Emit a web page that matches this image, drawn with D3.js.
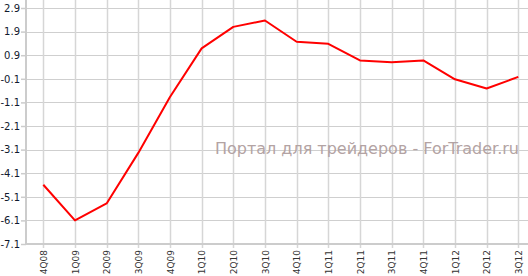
<!DOCTYPE html>
<html>
<head>
<meta charset="utf-8">
<script src="https://cdn.jsdelivr.net/npm/d3@7"></script>
<style>
html,body{margin:0;padding:0;background:#fff;}
svg{display:block;}
</style>
</head>
<body>
<svg id="chart" width="528" height="276"></svg>
<script>
const categories = ["4Q08","1Q09","2Q09","3Q09","4Q09","1Q10","2Q10","3Q10","4Q10","1Q11","2Q11","3Q11","4Q11","1Q12","2Q12","3Q12"];
const values = [-4.59,-6.1,-5.38,-3.24,-0.87,1.19,2.1,2.37,1.47,1.38,0.68,0.6,0.68,-0.12,-0.51,-0.02];
const yTicks = [2.9,1.9,0.9,-0.1,-1.1,-2.1,-3.1,-4.1,-5.1,-6.1,-7.1];
const watermark = "Портал для трейдеров - ForTrader.ru";

const svg = d3.select("#chart");
const W = 528, H = 276;
const left = 26, bottom = 244;

const x = d3.scalePoint().domain(categories).range([43.3, 518.3]);
const y = d3.scaleLinear().domain([-7.1, 2.9]).range([244, 8]);

// horizontal grid
svg.append("g").selectAll("line").data(yTicks).join("line")
  .attr("x1", left).attr("x2", W)
  .attr("y1", d => Math.round(y(d)) + 0.5).attr("y2", d => Math.round(y(d)) + 0.5)
  .attr("stroke", "#cfcfcf").attr("stroke-width", 1);

// vertical grid
svg.append("g").selectAll("line").data(categories).join("line")
  .attr("x1", d => Math.round(x(d)) + 0.5).attr("x2", d => Math.round(x(d)) + 0.5)
  .attr("y1", 0).attr("y2", bottom + 4)
  .attr("stroke", "#d6d6d6").attr("stroke-width", 1.5);

// y axis
const yAxis = d3.axisLeft(y).tickValues(yTicks).tickSize(5).tickPadding(1).tickFormat(d => d.toFixed(1));
const gy = svg.append("g").attr("transform", `translate(${left},0)`).call(yAxis);
gy.select(".domain").attr("stroke", "#cccccc").attr("stroke-width", 2).attr("d", `M0,0V${bottom}`);
gy.selectAll(".tick line").attr("stroke", "#cccccc").attr("stroke-width", 1.5);
gy.selectAll("text").attr("font-family", "DejaVu Sans, Verdana, sans-serif").attr("font-size", 10).attr("fill", "#111a2e");

// x axis
const xAxis = d3.axisBottom(x).tickSize(0).tickPadding(0);
const gx = svg.append("g").attr("transform", `translate(0,${bottom})`).call(xAxis);
gx.select(".domain").attr("stroke", "#cccccc").attr("stroke-width", 2).attr("d", `M${left},0H${W}`);
gx.selectAll("text")
  .attr("font-family", "DejaVu Sans, Verdana, sans-serif").attr("font-size", 9).attr("fill", "#333")
  .attr("transform", "rotate(-90)")
  .attr("text-anchor", "end")
  .attr("dy", "0.35em")
  .attr("x", -6).attr("y", 0);

// watermark
svg.append("text").attr("x", 519).attr("y", 153.5).attr("text-anchor", "end")
  .attr("font-family", "DejaVu Sans, Verdana, sans-serif").attr("font-size", 16)
  .attr("fill", "#b3a3a3").text(watermark);

// line
const line = d3.line().x((d, i) => x(categories[i])).y(d => y(d));
svg.append("path").datum(values).attr("d", line)
  .attr("fill", "none").attr("stroke", "#ff0000").attr("stroke-width", 2).attr("stroke-linejoin", "round");
</script>
</body>
</html>
